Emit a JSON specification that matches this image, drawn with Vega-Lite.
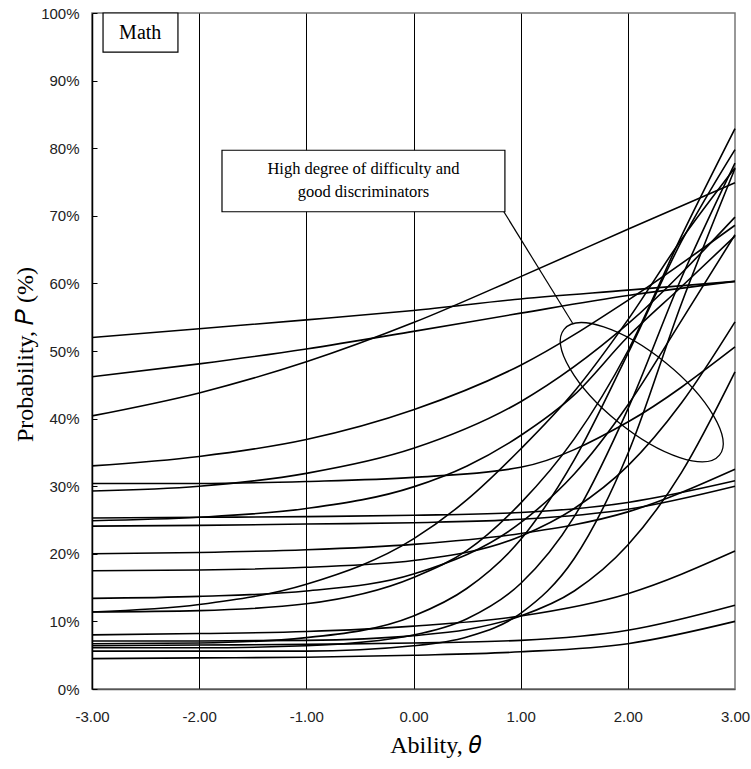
{
"$schema":"https://vega.github.io/schema/vega-lite/v6.json",
"width":643,"height":676,
"autosize":{"type":"none"},
"padding":{"left":92,"top":13,"right":16,"bottom":80},
"background":"white",
"config":{"view":{"stroke":"#777","strokeWidth":1.5}},
"datasets":{
"curves":[
{"i":"A","t":-3,"p":52.0},{"i":"A","t":-2,"p":53.3},{"i":"A","t":-1,"p":54.6},{"i":"A","t":0,"p":56.0},{"i":"A","t":1,"p":57.7},{"i":"A","t":2,"p":59.0},{"i":"A","t":3,"p":60.3},
{"i":"B","t":-3,"p":46.2},{"i":"B","t":-2,"p":48.1},{"i":"B","t":-1,"p":50.3},{"i":"B","t":0,"p":52.9},{"i":"B","t":1,"p":55.6},{"i":"B","t":2,"p":58.2},{"i":"B","t":3,"p":60.3},
{"i":"C","t":-3,"p":40.4},{"i":"C","t":-2,"p":43.8},{"i":"C","t":-1,"p":48.4},{"i":"C","t":0,"p":54.2},{"i":"C","t":1,"p":61.0},{"i":"C","t":2,"p":68.0},{"i":"C","t":3,"p":74.9},
{"i":"D","t":-3,"p":33.0},{"i":"D","t":-2,"p":34.4},{"i":"D","t":-1,"p":36.9},{"i":"D","t":0,"p":41.3},{"i":"D","t":1,"p":47.9},{"i":"D","t":2,"p":57.5},{"i":"D","t":3,"p":68.6},
{"i":"E","t":-3,"p":30.4},{"i":"E","t":-2,"p":30.4},{"i":"E","t":-1,"p":30.7},{"i":"E","t":0,"p":31.3},{"i":"E","t":1,"p":32.8},{"i":"E","t":2,"p":39.5},{"i":"E","t":3,"p":50.6},
{"i":"F","t":-3,"p":29.3},{"i":"F","t":-2,"p":30.0},{"i":"F","t":-1,"p":31.9},{"i":"F","t":0,"p":35.6},{"i":"F","t":1,"p":42.5},{"i":"F","t":2,"p":54.0},{"i":"F","t":3,"p":69.8},
{"i":"G","t":-3,"p":25.3},{"i":"G","t":-2,"p":25.4},{"i":"G","t":-1,"p":25.5},{"i":"G","t":0,"p":25.7},{"i":"G","t":1,"p":26.1},{"i":"G","t":2,"p":27.6},{"i":"G","t":3,"p":30.8},
{"i":"H","t":-3,"p":24.9},{"i":"H","t":-2,"p":25.4},{"i":"H","t":-1,"p":26.7},{"i":"H","t":0,"p":29.9},{"i":"H","t":0.5,"p":33.0},{"i":"H","t":1,"p":37.5},{"i":"H","t":1.5,"p":43.5},{"i":"H","t":2,"p":52.1},{"i":"H","t":2.5,"p":59.5},{"i":"H","t":3,"p":67.0},
{"i":"I","t":-3,"p":24.1},{"i":"I","t":-2,"p":24.2},{"i":"I","t":-1,"p":24.4},{"i":"I","t":0,"p":24.6},{"i":"I","t":1,"p":25.1},{"i":"I","t":2,"p":26.6},{"i":"I","t":3,"p":30.0},
{"i":"J","t":-3,"p":20.0},{"i":"J","t":-2,"p":20.2},{"i":"J","t":-1,"p":20.6},{"i":"J","t":0,"p":21.4},{"i":"J","t":1,"p":23.0},{"i":"J","t":2,"p":26.2},{"i":"J","t":3,"p":32.5},
{"i":"K","t":-3,"p":17.5},{"i":"K","t":-2,"p":17.6},{"i":"K","t":-1,"p":18.0},{"i":"K","t":0,"p":19.0},{"i":"K","t":1,"p":22.6},{"i":"K","t":1.5,"p":26.7},{"i":"K","t":2,"p":33.0},{"i":"K","t":2.5,"p":42.3},{"i":"K","t":3,"p":54.3},
{"i":"L","t":-3,"p":13.4},{"i":"L","t":-2,"p":13.7},{"i":"L","t":-1,"p":14.5},{"i":"L","t":0,"p":17.0},{"i":"L","t":1,"p":24.6},{"i":"L","t":1.5,"p":31.8},{"i":"L","t":2,"p":42.0},{"i":"L","t":2.5,"p":54.5},{"i":"L","t":3,"p":67.2},
{"i":"M","t":-3,"p":11.4},{"i":"M","t":-2,"p":11.6},{"i":"M","t":-1,"p":12.6},{"i":"M","t":0,"p":16.5},{"i":"M","t":0.5,"p":20.5},{"i":"M","t":1,"p":27.5},{"i":"M","t":1.5,"p":37.0},{"i":"M","t":2,"p":50.0},{"i":"M","t":2.5,"p":67.0},{"i":"M","t":3,"p":82.9},
{"i":"N","t":-3,"p":11.4},{"i":"N","t":-2,"p":12.5},{"i":"N","t":-1,"p":15.5},{"i":"N","t":0,"p":22.2},{"i":"N","t":0.5,"p":28.0},{"i":"N","t":1,"p":35.5},{"i":"N","t":1.5,"p":44.0},{"i":"N","t":2,"p":54.6},{"i":"N","t":2.5,"p":66.5},{"i":"N","t":3,"p":77.1},
{"i":"S1","t":-3,"p":6.7},{"i":"S1","t":-2,"p":6.8},{"i":"S1","t":-1,"p":7.6},{"i":"S1","t":0,"p":10.8},{"i":"S1","t":0.5,"p":14.9},{"i":"S1","t":1,"p":22.1},{"i":"S1","t":1.5,"p":33.9},{"i":"S1","t":2,"p":49.6},{"i":"S1","t":2.5,"p":66.2},{"i":"S1","t":3,"p":79.8},
{"i":"S2","t":-3,"p":6.1},{"i":"S2","t":-2,"p":6.1},{"i":"S2","t":-1,"p":6.4},{"i":"S2","t":0,"p":8.0},{"i":"S2","t":0.5,"p":10.4},{"i":"S2","t":1,"p":15.6},{"i":"S2","t":1.5,"p":25.5},{"i":"S2","t":2,"p":41.4},{"i":"S2","t":2.5,"p":60.8},{"i":"S2","t":3,"p":77.8},
{"i":"S3","t":-3,"p":5.6},{"i":"S3","t":-2,"p":5.6},{"i":"S3","t":-1,"p":5.6},{"i":"S3","t":0,"p":6.4},{"i":"S3","t":0.5,"p":7.7},{"i":"S3","t":1,"p":11.2},{"i":"S3","t":1.5,"p":19.3},{"i":"S3","t":2,"p":34.8},{"i":"S3","t":2.5,"p":57.0},{"i":"S3","t":3,"p":77.0},
{"i":"O","t":-3,"p":8.0},{"i":"O","t":-2,"p":8.2},{"i":"O","t":-1,"p":8.5},{"i":"O","t":0,"p":9.3},{"i":"O","t":1,"p":10.8},{"i":"O","t":2,"p":14.1},{"i":"O","t":3,"p":20.4},
{"i":"P","t":-3,"p":7.1},{"i":"P","t":-2,"p":7.1},{"i":"P","t":-1,"p":7.2},{"i":"P","t":0,"p":7.9},{"i":"P","t":0.5,"p":8.8},{"i":"P","t":1,"p":10.8},{"i":"P","t":1.5,"p":14.5},{"i":"P","t":2,"p":21.3},{"i":"P","t":2.5,"p":32.0},{"i":"P","t":3,"p":46.9},
{"i":"Q","t":-3,"p":6.4},{"i":"Q","t":-2,"p":6.5},{"i":"Q","t":-1,"p":6.6},{"i":"Q","t":0,"p":6.8},{"i":"Q","t":1,"p":7.2},{"i":"Q","t":2,"p":8.7},{"i":"Q","t":3,"p":12.4},
{"i":"U","t":-3,"p":4.5},{"i":"U","t":-2,"p":4.6},{"i":"U","t":-1,"p":4.7},{"i":"U","t":0,"p":5.0},{"i":"U","t":1,"p":5.5},{"i":"U","t":2,"p":6.7},{"i":"U","t":3,"p":10.0}
],
"boxes":[
{"name":"math","x1":-2.897,"x2":-2.198,"y1":94.2,"y2":100},
{"name":"callout","x1":-1.787,"x2":0.853,"y1":70.6,"y2":79.7}
],
"mathlabel":[{"t":-2.55,"p":97.0,"text":"Math"}],
"labels":[
{"t":-0.467,"p":76.9,"text":"High degree of difficulty and"},
{"t":-0.467,"p":73.5,"text":"good discriminators"}
],
"leader":[{"x1":0.843,"y1":70.6,"x2":1.485,"y2":54.1}],
"ellipse":[{"t":2.13,"p":43.9}]
},
"layer":[
{"data":{"name":"curves"},
 "mark":{"type":"line","interpolate":"monotone","color":"black","strokeWidth":1.6},
 "encoding":{
  "x":{"field":"t","type":"quantitative","scale":{"domain":[-3,3],"nice":false,"zero":false},
   "axis":{"values":[-3,-2,-1,0,1,2,3],"labelExpr":"replace(format(datum.value,'.2f'),'\u2212','-')",
    "grid":true,"gridColor":{"condition":{"test":"datum.value===3 || datum.value===-3","value":"transparent"},"value":"black"},"gridWidth":1,"gridOpacity":1,
    "ticks":false,"domainColor":"#555","domainWidth":1.5,
    "labelFont":"Liberation Sans","labelFontSize":15,"labelColor":"#222","labelPadding":20,"labelFlush":false,
    "title":"Ability, 𝜃","titleFont":"Liberation Serif","titleFontSize":24,"titleFontWeight":"normal","titleColor":"black",
    "titleX":343,"titleY":63,"titleAlign":"center","titleBaseline":"alphabetic","titleAnchor":null}},
  "y":{"field":"p","type":"quantitative","scale":{"domain":[0,100],"nice":false},
   "axis":{"values":[0,10,20,30,40,50,60,70,80,90,100],"labelExpr":"datum.value + '%'","grid":false,
    "ticks":true,"tickSize":-5,"tickColor":"black","domainColor":"black","domainWidth":1.5,
    "labelFont":"Liberation Sans","labelFontSize":15,"labelColor":"#222","labelPadding":18,"labelFlush":false,
    "title":"Probability, 𝑃 (%)","titleFont":"Liberation Serif","titleFontSize":24,"titleFontWeight":"normal","titleColor":"black",
    "titleX":-60,"titleY":341,"titleAngle":270,"titleAlign":"center","titleBaseline":"alphabetic","titleAnchor":null}},
  "detail":{"field":"i","type":"nominal"}
 }},
{"data":{"name":"boxes"},
 "mark":{"type":"rect","fill":"white","stroke":"black","strokeWidth":1.2},
 "encoding":{"x":{"field":"x1","type":"quantitative"},"x2":{"field":"x2"},"y":{"field":"y1","type":"quantitative"},"y2":{"field":"y2"}}},
{"data":{"name":"mathlabel"},
 "mark":{"type":"text","font":"Liberation Serif","fontSize":20,"color":"black","align":"center","baseline":"middle"},
 "encoding":{"x":{"field":"t","type":"quantitative"},"y":{"field":"p","type":"quantitative"},"text":{"field":"text"}}},
{"data":{"name":"labels"},
 "mark":{"type":"text","font":"Liberation Serif","fontSize":16.5,"color":"black","align":"center","baseline":"middle"},
 "encoding":{"x":{"field":"t","type":"quantitative"},"y":{"field":"p","type":"quantitative"},"text":{"field":"text"}}},
{"data":{"name":"leader"},
 "mark":{"type":"rule","color":"black","strokeWidth":1.2},
 "encoding":{"x":{"field":"x1","type":"quantitative"},"x2":{"field":"x2"},"y":{"field":"y1","type":"quantitative"},"y2":{"field":"y2"}}},
{"data":{"name":"ellipse"},
 "mark":{"type":"point","shape":"M -1 0 C -1 -0.21 -0.552 -0.38 0 -0.38 C 0.552 -0.38 1 -0.21 1 0 C 1 0.21 0.552 0.38 0 0.38 C -0.552 0.38 -1 0.21 -1 0 Z","size":40000,"angle":39,"filled":false,"stroke":"black","strokeWidth":1.3,"opacity":1},
 "encoding":{"x":{"field":"t","type":"quantitative"},"y":{"field":"p","type":"quantitative"}}}
]
}
